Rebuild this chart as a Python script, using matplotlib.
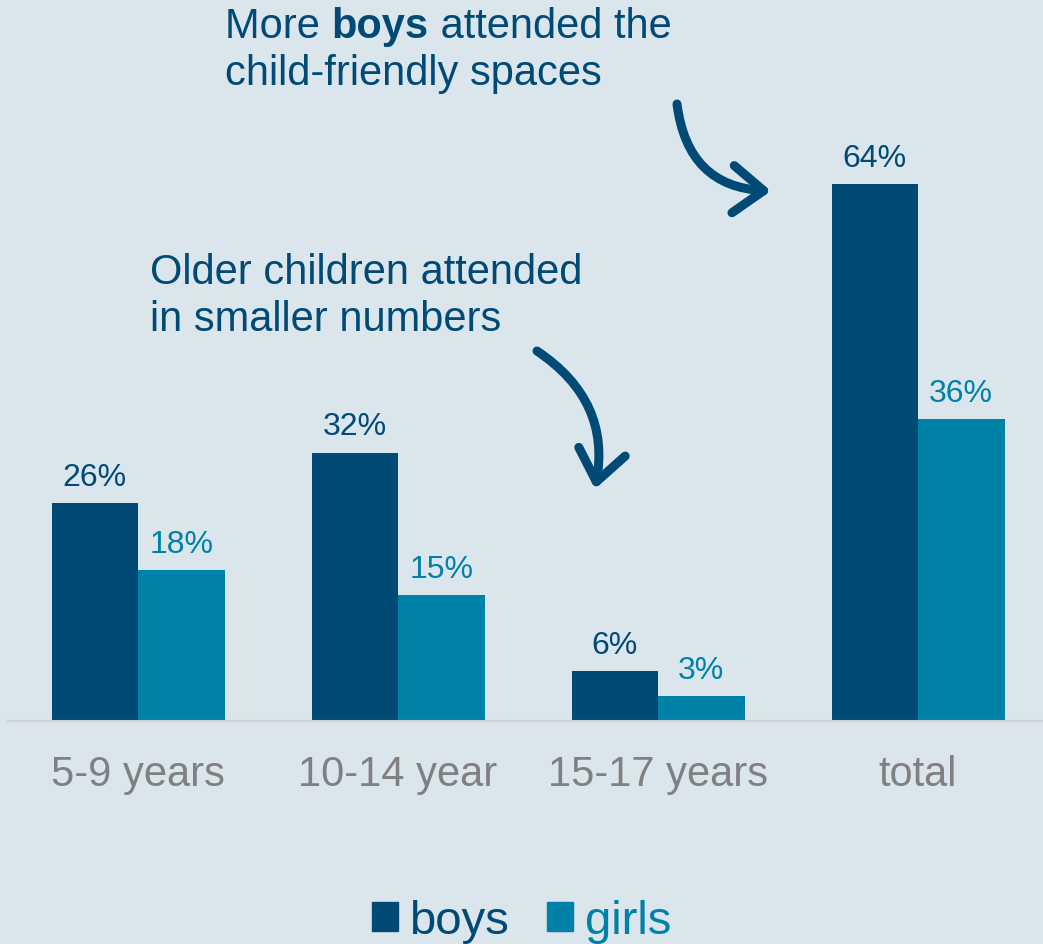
import matplotlib
matplotlib.use("Agg")
import matplotlib.pyplot as plt
import numpy as np
from matplotlib.patches import Rectangle, FancyArrowPatch

categories = ["5-9 years", "10-14 year", "15-17 years", "total"]
boys = [26, 32, 6, 64]
girls = [18, 15, 3, 36]

BOYS_C = "#004A75"
GIRLS_C = "#0082A8"
BG = "#DAE5EC"
TICK_C = "#808080"

plt.rcParams['font.family'] = ['Liberation Sans', 'DejaVu Sans']

W, H = 1043, 945
fig = plt.figure(figsize=(W / 100, H / 100), dpi=100, facecolor=BG)
ax = fig.add_axes([8 / W, 223 / H, (W - 8) / W, 722 / H])
ax.set_facecolor(BG)

x = np.arange(len(categories))
bw = 86.5 / 260
ax.bar(x - bw / 2, boys, width=bw, color=BOYS_C, label="boys")
ax.bar(x + bw / 2, girls, width=bw, color=GIRLS_C, label="girls")

for xi, v in zip(x, boys):
    ax.annotate(f"{v}%", (xi - bw / 2, v), xytext=(0, 13), textcoords="offset points",
                ha="center", va="baseline", fontsize=23, color=BOYS_C)
for xi, v in zip(x, girls):
    ax.annotate(f"{v}%", (xi + bw / 2, v), xytext=(0, 13), textcoords="offset points",
                ha="center", va="baseline", fontsize=23, color=GIRLS_C)

ax.set_xlim(-0.5, (1043 - 138) / 260)
ax.set_ylim(0, 722 / 8.39)
ax.set_xticks(x)
ax.set_xticklabels(categories, fontsize=30, color=TICK_C)
ax.tick_params(axis="x", length=0, pad=24)
ax.set_yticks([])
for s in ["top", "right", "left"]:
    ax.spines[s].set_visible(False)
ax.spines["bottom"].set_color("#D0D0D0")
ax.spines["bottom"].set_linewidth(1.5)

def fp(xp, yp_img):
    return (xp / W, (H - yp_img) / H)

fig.canvas.draw()
renderer = fig.canvas.get_renderer()

def seq_text(x0, y_img, parts, size=30):
    xx = x0
    for txt, weight in parts:
        t = fig.text(xx / W, (H - y_img) / H, txt, fontsize=size, color=BOYS_C,
                     fontweight=weight, ha="left", va="baseline")
        bb = t.get_window_extent(renderer=renderer)
        xx = bb.x1

seq_text(225, 38, [("More ", "normal"), ("boys", "bold"), (" attended the", "normal")])
seq_text(225, 85, [("child-friendly spaces", "normal")])
seq_text(150, 284, [("Older children attended", "normal")])
seq_text(150, 331, [("in smaller numbers", "normal")])

for (p0, p1, rad) in [((677, 105), (771, 192), 0.42), ((537, 352), (595, 490), -0.33)]:
    arr = FancyArrowPatch(fp(*p0), fp(*p1), transform=fig.transFigure,
                          connectionstyle=f"arc3,rad={rad}",
                          arrowstyle="->,head_length=1.1,head_width=0.85",
                          color=BOYS_C, linewidth=6.5, capstyle="round", joinstyle="round",
                          mutation_scale=20, shrinkA=0, shrinkB=0)
    fig.add_artist(arr)

handles = [Rectangle((0, 0), 1, 1, color=BOYS_C), Rectangle((0, 0), 1, 1, color=GIRLS_C)]
leg = fig.legend(handles, ["boys", "girls"], loc="lower center", bbox_to_anchor=(0.5, -0.044),
                 ncol=2, frameon=False, fontsize=34, handlelength=0.55, handleheight=0.55,
                 handletextpad=0.25, columnspacing=0.8)
for t, c in zip(leg.get_texts(), [BOYS_C, GIRLS_C]):
    t.set_color(c)

fig.savefig("out.png", dpi=100, facecolor=BG)
